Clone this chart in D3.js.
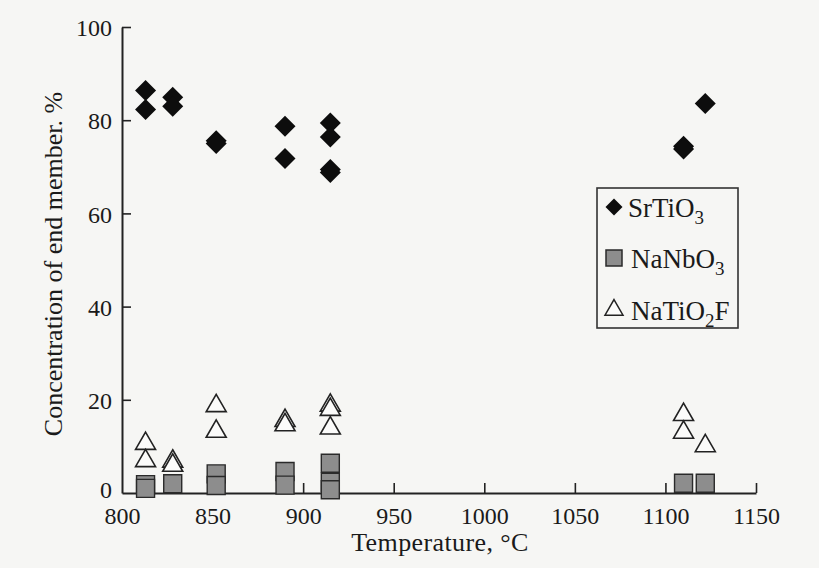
<!DOCTYPE html>
<html>
<head>
<meta charset="utf-8">
<script src="https://cdn.jsdelivr.net/npm/d3@7"></script>
<style>
  body { margin: 0; background: #f6f6f4; }
  svg { display: block; }
  text { font-family: "Liberation Serif", "DejaVu Serif", serif; fill: #1a1a1a; }
</style>
</head>
<body>
<svg id="chart"></svg>
<script>
// temperatures (°C) and concentrations (%)
var srTemp = [813, 813, 828, 828, 852, 852, 890, 890, 915, 915, 915, 915, 1110, 1110, 1122];
var srConc = [86.4, 82.3, 84.9, 83.0, 75.6, 75.0, 78.7, 71.8, 79.4, 76.4, 69.4, 68.8, 74.4, 73.8, 83.6];

var nbTemp = [813, 813, 828, 852, 852, 890, 890, 915, 915, 915, 1110, 1122];
var nbConc = [1.8, 1.0, 2.0, 4.1, 1.6, 4.6, 1.7, 6.4, 2.3, 0.7, 2.1, 2.1];

var tfTemp = [813, 813, 828, 828, 852, 852, 890, 890, 915, 915, 915, 1110, 1110, 1122];
var tfConc = [10.6, 6.9, 6.8, 5.9, 18.7, 13.2, 15.5, 14.6, 18.8, 17.9, 13.9, 16.8, 13.0, 10.1];

var xTicks = [800, 850, 900, 950, 1000, 1050, 1100, 1150];
var yTicks = [0, 20, 40, 60, 80, 100];

var svgWidth = 819, svgHeight = 568;
var margin = { top: 27, right: 63, bottom: 75, left: 122 };
var width = svgWidth - margin.left - margin.right;
var height = svgHeight - margin.top - margin.bottom;

var svg = d3.select('#chart')
    .attr("width", svgWidth)
    .attr("height", svgHeight);
var g = svg.append("g")
    .attr("transform", "translate(" + margin.left + "," + margin.top + ")");

var x = d3.scaleLinear().domain([800, 1150]).range([0, width]);
var y = d3.scaleLinear().domain([0, 100]).range([height, 0]);

function zip(a, b) {
  return a.map(function(d, i) { return { t: d, c: b[i] }; });
}

// marker shapes
function diamond(r) { return "M0," + (-r) + "L" + r + ",0L0," + r + "L" + (-r) + ",0Z"; }
function square(r) { return "M" + (-r) + "," + (-r) + "h" + (2 * r) + "v" + (2 * r) + "h" + (-2 * r) + "Z"; }
function triangle(s) {
  var h = s * Math.sqrt(3) / 2;
  return "M0," + (-2 * h / 3) + "L" + (s / 2) + "," + (h / 3) + "L" + (-s / 2) + "," + (h / 3) + "Z";
}

// axes
var xAxis = g.append("g")
    .attr("transform", "translate(0," + height + ")")
    .call(d3.axisBottom(x).tickValues(xTicks).tickFormat(d3.format("d"))
      .tickSize(-10).tickSizeOuter(0).tickPadding(14));
var yAxis = g.append("g")
    .call(d3.axisLeft(y).tickValues(yTicks).tickFormat(d3.format("d"))
      .tickSize(-9).tickSizeOuter(0).tickPadding(10));

[xAxis, yAxis].forEach(function(a) {
  a.select(".domain").attr("stroke", "#222").attr("stroke-width", 2);
  a.selectAll(".tick line").attr("stroke", "#222").attr("stroke-width", 1.6);
  a.selectAll(".tick text")
    .attr("fill", "#1a1a1a")
    .style("font-family", "'Liberation Serif', serif")
    .style("font-size", "24px");
});
xAxis.selectAll(".tick").filter(function(d) { return d === 800; }).select("line").remove();
yAxis.selectAll(".tick").filter(function(d) { return d === 0; }).select("line").remove();
yAxis.selectAll(".tick text").attr("dy", "0.36em");
yAxis.selectAll(".tick").filter(function(d) { return d === 0; }).select("text").attr("dy", "0.2em");

// axis titles
svg.append("text")
    .attr("x", 440).attr("y", 551)
    .attr("text-anchor", "middle")
    .style("font-size", "26px")
    .style("letter-spacing", "0.4px")
    .text("Temperature, °C");

svg.append("text")
    .attr("transform", "translate(62,264) rotate(-90)")
    .attr("text-anchor", "middle")
    .style("font-size", "26px")
    .text("Concentration of end member. %");

// points
g.selectAll(".nb")
    .data(zip(nbTemp, nbConc))
    .enter().append("path")
    .attr("class", "nb")
    .attr("d", square(9))
    .attr("transform", function(d) { return "translate(" + x(d.t) + "," + y(d.c) + ")"; })
    .attr("fill", "#8d8d8d")
    .attr("stroke", "#2a2a2a")
    .attr("stroke-width", 1.4);

g.selectAll(".tf")
    .data(zip(tfTemp, tfConc))
    .enter().append("path")
    .attr("class", "tf")
    .attr("d", triangle(20))
    .attr("transform", function(d) { return "translate(" + x(d.t) + "," + y(d.c) + ")"; })
    .attr("fill", "#fbfbfa")
    .attr("stroke", "#222")
    .attr("stroke-width", 1.6);

g.selectAll(".sr")
    .data(zip(srTemp, srConc))
    .enter().append("path")
    .attr("class", "sr")
    .attr("d", diamond(10.5))
    .attr("transform", function(d) { return "translate(" + x(d.t) + "," + y(d.c) + ")"; })
    .attr("fill", "#0d0d0d");

// legend
var legend = svg.append("g").attr("transform", "translate(597,188)");
legend.append("rect")
    .attr("width", 141).attr("height", 140)
    .attr("fill", "none")
    .attr("stroke", "#333")
    .attr("stroke-width", 1.6);

var legendItems = [
  { base: "SrTiO", sub: "3", tail: "", y: 19, shape: diamond(8.5), fill: "#0d0d0d", stroke: "none", tx: 31 },
  { base: "NaNbO", sub: "3", tail: "", y: 70, shape: square(8), fill: "#8d8d8d", stroke: "#2a2a2a", tx: 34 },
  { base: "NaTiO", sub: "2", tail: "F", y: 122, shape: triangle(18), fill: "#fbfbfa", stroke: "#222", tx: 34 }
];
legendItems.forEach(function(it) {
  legend.append("path")
      .attr("d", it.shape)
      .attr("transform", "translate(17," + it.y + ")")
      .attr("fill", it.fill)
      .attr("stroke", it.stroke)
      .attr("stroke-width", 1.5);
  var t = legend.append("text")
      .attr("x", it.tx).attr("y", it.y + 10)
      .style("font-size", "27px");
  t.append("tspan").text(it.base);
  t.append("tspan").attr("dy", 7).style("font-size", "19px").text(it.sub);
  if (it.tail) t.append("tspan").attr("dy", -7).text(it.tail);
});
</script>
</body>
</html>
